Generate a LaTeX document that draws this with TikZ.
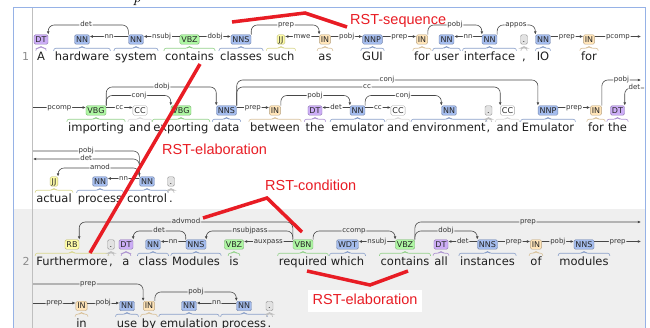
\documentclass[tikz,border=0pt]{standalone}
\usepackage{fontspec}
\usepackage{tikz}
\usetikzlibrary{arrows.meta}
\newfontfamily\dejavu{DejaVu Sans}
\newfontfamily\rstfont{Liberation Sans}

\definecolor{dtc}{RGB}{204,173,246}
\definecolor{nnc}{RGB}{164,188,237}
\definecolor{vbc}{RGB}{173,246,162}
\definecolor{jjc}{RGB}{255,253,168}
\definecolor{inc}{RGB}{255,228,184}
\definecolor{ccc}{RGB}{255,255,255}
\definecolor{ptc}{RGB}{226,226,226}
\definecolor{bgc}{RGB}{239,239,239}
\definecolor{framec}{RGB}{150,178,230}
\definecolor{rstc}{RGB}{232,28,36}

\begin{document}
\begin{tikzpicture}[x=1pt,y=-1pt,
  tag/.style={draw=#1!72!black, fill=#1, rounded corners=1.5pt, font=\dejavu\fontsize{8}{8}\selectfont, text=black!85, inner xsep=1.5pt, inner ysep=0pt, minimum height=9.5pt, minimum width=7pt, text height=5.8pt, text depth=0pt},
  dtbox/.style={tag=dtc}, nnbox/.style={tag=nnc}, vbbox/.style={tag=vbc},
  jjbox/.style={tag=jjc}, inbox/.style={tag=inc},
  ccbox/.style={tag=ccc, draw=black!35}, ptbox/.style={tag=ptc, draw=black!40},
  wd/.style={anchor=base, font=\dejavu\fontsize{11.5}{13}\selectfont, text=black!88, inner xsep=1pt, inner ysep=0pt, text height=9pt, text depth=0pt},
  num/.style={anchor=base, font=\dejavu\fontsize{11}{11}\selectfont, text=black!45},
  dep/.style={draw=black!72, line width=0.6pt, rounded corners=6pt, -{Latex[length=3.2pt,width=2.8pt]}},
  lbl/.style={fill=white, font=\dejavu\fontsize{7}{7}\selectfont, text=black!80, inner xsep=0.8pt, inner ysep=0.3pt, text height=5pt, text depth=1.2pt},
  lbl2/.style={lbl, fill=bgc},
  brk/.style={line width=0.6pt, rounded corners=2pt},
  rst/.style={draw=rstc, line width=3.5pt},
  rstlbl/.style={anchor=base west, text=rstc, inner sep=0pt, font=\rstfont\fontsize{14.5}{15}\selectfont}]

\useasboundingbox (0,0) rectangle (650,328);

% caption above
\node[font=\itshape\fontsize{16}{16}\selectfont, anchor=base] (cap) at (137,2.5) {p};

% frame
\fill[bgc] (13.5,209) rectangle (645,335);
\draw[black!25, line width=1pt] (32,8.5) -- (32,335);
\draw[framec, line width=1pt] (13,335) |- (645,8) -- (645,335);

% sentence 1, line 1
\node[num] (n1) at (25.5,61) {1};
\node[dtbox] (p1) at (41,39.5) {DT};      \node[wd] (w1) at (41,61) {A};
\node[nnbox] (p2) at (82,39.5) {NN};      \node[wd] (w2) at (82,61) {hardware};
\node[nnbox] (p3) at (136,39.5) {NN};     \node[wd] (w3) at (136,61) {system};
\node[vbbox] (p4) at (189.5,39.5) {VBZ};  \node[wd] (w4) at (189.5,61) {contains};
\node[nnbox] (p5) at (241,39.5) {NNS};    \node[wd] (w5) at (241,61) {classes};
\node[jjbox] (p6) at (281,39.5) {JJ};     \node[wd] (w6) at (281,61) {such};
\node[inbox] (p7) at (325,39.5) {IN};     \node[wd] (w7) at (325,61) {as};
\node[nnbox] (p8) at (372.5,39.5) {NNP};  \node[wd] (w8) at (372.5,61) {GUI};
\node[inbox] (p9) at (422,39.5) {IN};     \node[wd] (w9) at (422,61) {for};
\node[nnbox] (p10) at (446.5,39.5) {NN};  \node[wd] (w10) at (446.5,61) {user};
\node[nnbox] (p11) at (489.5,39.5) {NN};  \node[wd] (w11) at (489.5,61) {interface};
\node[ptbox] (p12) at (524,39.5) {.};     \node[wd] (w12) at (524,61) {,};
\node[nnbox] (p13) at (543,39.5) {NN};    \node[wd] (w13) at (543,61) {IO};
\node[inbox] (p14) at (589,39.5) {IN};    \node[wd] (w14) at (589,61) {for};

% sentence 1, line 2
\node[vbbox] (p15) at (96,110.5) {VBG};   \node[wd] (w15) at (96,132) {importing};
\node[ccbox] (p16) at (140,110.5) {CC};   \node[wd] (w16) at (140,132) {and};
\node[vbbox] (p17) at (181,110.5) {VBG};  \node[wd] (w17) at (181,132) {exporting};
\node[nnbox] (p18) at (226.5,110.5) {NNS}; \node[wd] (w18) at (226.5,132) {data};
\node[inbox] (p19) at (275,110.5) {IN};   \node[wd] (w19) at (275,132) {between};
\node[dtbox] (p20) at (315,110.5) {DT};   \node[wd] (w20) at (315,132) {the};
\node[nnbox] (p21) at (357.5,110.5) {NN}; \node[wd] (w21) at (357.5,132) {emulator};
\node[ccbox] (p22) at (398,110.5) {CC};   \node[wd] (w22) at (398,132) {and};
\node[nnbox] (p23) at (449,110.5) {NN};   \node[wd] (w23) at (449,132) {environment};
\node[ptbox] (p24) at (488.5,110.5) {.};  \node[wd] (w24) at (488.5,132) {,};
\node[ccbox] (p25) at (507.5,110.5) {CC}; \node[wd] (w25) at (507.5,132) {and};
\node[nnbox] (p26) at (548,110.5) {NNP};  \node[wd] (w26) at (548,132) {Emulator};
\node[inbox] (p27) at (596,110.5) {IN};   \node[wd] (w27) at (596,132) {for};
\node[dtbox] (p28) at (617.5,110.5) {DT}; \node[wd] (w28) at (617.5,132) {the};

% sentence 1, line 3
\node[jjbox] (p29) at (54,181.5) {JJ};    \node[wd] (w29) at (54,203) {actual};
\node[nnbox] (p30) at (100,181.5) {NN};   \node[wd] (w30) at (100,203) {process};
\node[nnbox] (p31) at (147,181.5) {NN};   \node[wd] (w31) at (147,203) {control};
\node[ptbox] (p32) at (171,181.5) {.};    \node[wd] (w32) at (171,203) {.};

% sentence 2, line 1
\node[num] (n2) at (26,266) {2};
\node[jjbox] (p33) at (72,244.5) {RB};    \node[wd] (w33) at (72,266) {Furthermore};
\node[ptbox] (p34) at (111,244.5) {.};    \node[wd] (w34) at (111,266) {,};
\node[dtbox] (p35) at (126,244.5) {DT};   \node[wd] (w35) at (126,266) {a};
\node[nnbox] (p36) at (153,244.5) {NN};   \node[wd] (w36) at (153,266) {class};
\node[nnbox] (p37) at (196,244.5) {NNS};  \node[wd] (w37) at (196,266) {Modules};
\node[vbbox] (p38) at (234,244.5) {VBZ};  \node[wd] (w38) at (234,266) {is};
\node[vbbox] (p39) at (303,244.5) {VBN};  \node[wd] (w39) at (303,266) {required};
\node[nnbox] (p40) at (347.5,244.5) {WDT}; \node[wd] (w40) at (347.5,266) {which};
\node[vbbox] (p41) at (405,244.5) {VBZ};  \node[wd] (w41) at (405,266) {contains};
\node[dtbox] (p42) at (441,244.5) {DT};   \node[wd] (w42) at (441,266) {all};
\node[nnbox] (p43) at (487.5,244.5) {NNS}; \node[wd] (w43) at (487.5,266) {instances};
\node[inbox] (p44) at (536,244.5) {IN};   \node[wd] (w44) at (536,266) {of};
\node[nnbox] (p45) at (584,244.5) {NNS};  \node[wd] (w45) at (584,266) {modules};

% sentence 2, line 2
\node[inbox] (p46) at (81.5,306) {IN};    \node[wd] (w46) at (81.5,327) {in};
\node[nnbox] (p47) at (127,306) {NN};     \node[wd] (w47) at (127,327) {use};
\node[inbox] (p48) at (149,306) {IN};     \node[wd] (w48) at (149,327) {by};
\node[nnbox] (p49) at (189,306) {NN};     \node[wd] (w49) at (189,327) {emulation};
\node[nnbox] (p50) at (244,306) {NN};     \node[wd] (w50) at (244,327) {process};
\node[ptbox] (p51) at (269.5,306) {.};    \node[wd] (w51) at (269.5,327) {.};

% span brackets under the words
\foreach \i/\c in {1/dtc,2/nnc,3/nnc,4/vbc,5/nnc,6/jjc,7/inc,8/nnc,9/inc,10/nnc,11/nnc,12/ptc,13/nnc,14/inc,
  15/vbc,16/ccc,17/vbc,18/nnc,19/inc,20/dtc,21/nnc,22/ccc,23/nnc,24/ptc,25/ccc,26/nnc,27/inc,28/dtc,
  29/jjc,30/nnc,31/nnc,32/ptc,33/jjc,34/ptc,35/dtc,36/nnc,37/nnc,38/vbc,39/vbc,40/nnc,41/vbc,42/dtc,
  43/nnc,44/inc,45/nnc,46/inc,47/nnc,48/inc,49/nnc,50/nnc,51/ptc}
  \draw[brk, draw=\c!85!black] ([yshift=1pt]w\i.north west) |- ([xshift=-2pt,yshift=3.5pt]w\i.north)
    -- ([yshift=5.5pt]w\i.north) -- ([xshift=2pt,yshift=3.5pt]w\i.north) -| ([yshift=1pt]w\i.north east);

% free ends at the margins
\coordinate (r1) at (641,36.5);
\coordinate (r2) at (641,80);
\coordinate (r3) at (644,88);
\coordinate (l1) at (33,107.5);
\coordinate (l2) at (33,151);
\coordinate (l3) at (33,159);
\coordinate (r4) at (641,222);
\coordinate (r5) at (641,241.5);
\coordinate (l4) at (33,284);
\coordinate (l5) at (33,303);

% arcs, sentence 1, line 1
\draw[dep] (p3.north west) |- (86,25) node[lbl]{det} -| (p1.north east);
\draw[dep] ([yshift=3pt]p3.west) -- node[lbl]{nn} ([yshift=3pt]p2.east);
\draw[dep] ([yshift=3pt]p4.west) -- node[lbl]{nsubj} ([yshift=3pt]p3.east);
\draw[dep] ([yshift=3pt]p4.east) -- node[lbl]{dobj} ([yshift=3pt]p5.west);
\draw[dep] (p5.north east) |- (286,25) node[lbl]{prep} -| (p7.north west);
\draw[dep] ([yshift=3pt]p7.west) -- node[lbl]{mwe} ([yshift=3pt]p6.east);
\draw[dep] ([yshift=3pt]p7.east) -- node[lbl]{pobj} ([yshift=3pt]p8.west);
\draw[dep] ([yshift=3pt]p8.east) -- node[lbl]{prep} ([yshift=3pt]p9.west);
\draw[dep] (p9.north east) |- (455,25) node[lbl]{pobj} -| (p11.north west);
\draw[dep] ([yshift=3pt]p11.west) -- node[lbl]{nn} ([yshift=3pt]p10.east);
\draw[dep] (p11.north east) |- (516,25) node[lbl]{appos} -| (p13.north west);
\draw[dep] ([yshift=3pt]p13.east) -- node[lbl]{prep} ([yshift=3pt]p14.west);
\draw[dep] ([yshift=3pt]p14.east) -- node[lbl]{pcomp} (r1);

% arcs, sentence 1, line 2
\draw[dep] (l1) -- node[lbl]{pcomp} ([yshift=3pt]p15.west);
\draw[dep] ([yshift=3pt]p15.east) -- node[lbl]{cc} ([yshift=3pt]p16.west);
\draw[dep] (p15.north east) |- (139,95.5) node[lbl]{conj} -| (p17.north west);
\draw[dep] (p15.north east) |- (162,87) node[lbl]{dobj} -| (p18.north west);
\draw[dep] (p18.north east) |- (387,80) node[lbl]{conj} -| (p26.north west);
\draw[dep] (p18.north east) |- (367,87) node[lbl]{cc} -| (p25.north west);
\draw[dep] ([yshift=3pt]p18.east) -- node[lbl]{prep} ([yshift=3pt]p19.west);
\draw[dep] (p19.north east) |- (315,95.5) node[lbl]{pobj} -| (p21.north west);
\draw[dep] ([yshift=3pt]p21.west) -- node[lbl]{det} ([yshift=3pt]p20.east);
\draw[dep] ([yshift=3pt]p21.east) -- node[lbl]{cc} ([yshift=3pt]p22.west);
\draw[dep] (p21.north east) |- (403,95.5) node[lbl]{conj} -| (p23.north west);
\draw[dep] ([yshift=3pt]p26.east) -- node[lbl]{prep} ([yshift=3pt]p27.west);
\draw[dep] (p27.north east) |- node[lbl,pos=.75]{pobj} (r2);
\draw[dep] (r3) -| node[lbl,pos=.25]{det} (p28.north east);

% arcs, sentence 1, line 3
\draw[dep] (l2) -| node[lbl,pos=.25]{pobj} (p31.north west);
\draw[dep] (p31.north west) |- node[lbl,pos=.75]{det} (l3);
\draw[dep] (p31.north west) |- (100,168) node[lbl]{amod} -| (p29.north east);
\draw[dep] ([yshift=3pt]p31.west) -- node[lbl]{nn} ([yshift=3pt]p30.east);

% arcs, sentence 2, line 1
\draw[dep] (p39.north west) |- (186,222) node[lbl2]{advmod} -| (p33.north east);
\draw[dep] (p37.north west) |- (159,231) node[lbl2]{det} -| (p35.north east);
\draw[dep] ([yshift=3pt]p37.west) -- node[lbl2]{nn} ([yshift=3pt]p36.east);
\draw[dep] (p39.north west) |- (250,231) node[lbl2]{nsubjpass} -| (p37.north east);
\draw[dep] ([yshift=3pt]p39.west) -- node[lbl2]{auxpass} ([yshift=3pt]p38.east);
\draw[dep] (p39.north east) |- (354,231) node[lbl2]{ccomp} -| (p41.north west);
\draw[dep] ([yshift=3pt]p41.west) -- node[lbl2]{nsubj} ([yshift=3pt]p40.east);
\draw[dep] (p41.north east) |- (446,231) node[lbl2]{dobj} -| (p43.north west);
\draw[dep] (p41.north east) |- node[lbl2,pos=.75]{prep} (r4);
\draw[dep] ([yshift=3pt]p43.west) -- node[lbl2]{det} ([yshift=3pt]p42.east);
\draw[dep] ([yshift=3pt]p43.east) -- node[lbl2]{prep} ([yshift=3pt]p44.west);
\draw[dep] ([yshift=3pt]p44.east) -- node[lbl2]{pobj} ([yshift=3pt]p45.west);
\draw[dep] ([yshift=3pt]p45.east) -- node[lbl2]{prep} (r5);

% arcs, sentence 2, line 2
\draw[dep] (l4) -| node[lbl2,pos=.25]{prep} (p48.north west);
\draw[dep] (l5) -- node[lbl2]{prep} ([yshift=3pt]p46.west);
\draw[dep] ([yshift=3pt]p46.east) -- node[lbl2]{pobj} ([yshift=3pt]p47.west);
\draw[dep] (p48.north east) |- (196,292) node[lbl2]{pobj} -| (p50.north west);
\draw[dep] ([yshift=3pt]p50.west) -- node[lbl2]{nn} ([yshift=3pt]p49.east);

% RST relations
\draw[rst] (232,22) -- (305,13) -- (347,27);
\node[rstlbl] (seq) at (350,25) {RST-sequence};
\draw[rst] (200,64) -- (90,253);
\node[rstlbl] (elab1) at (162,155) {RST-elaboration};
\draw[rst] (203,218) -- (267,198) -- (302,232);
\node[rstlbl] (cond) at (265,191) {RST-condition};
\draw[rst] (307,271) -- (370,285) -- (408,271);
\node[rstlbl, anchor=center, fill=white, inner xsep=5pt, inner ysep=5pt, text height=10pt, text depth=2.5pt] (elab2) at (365,301) {RST-elaboration};

\end{tikzpicture}
\end{document}
